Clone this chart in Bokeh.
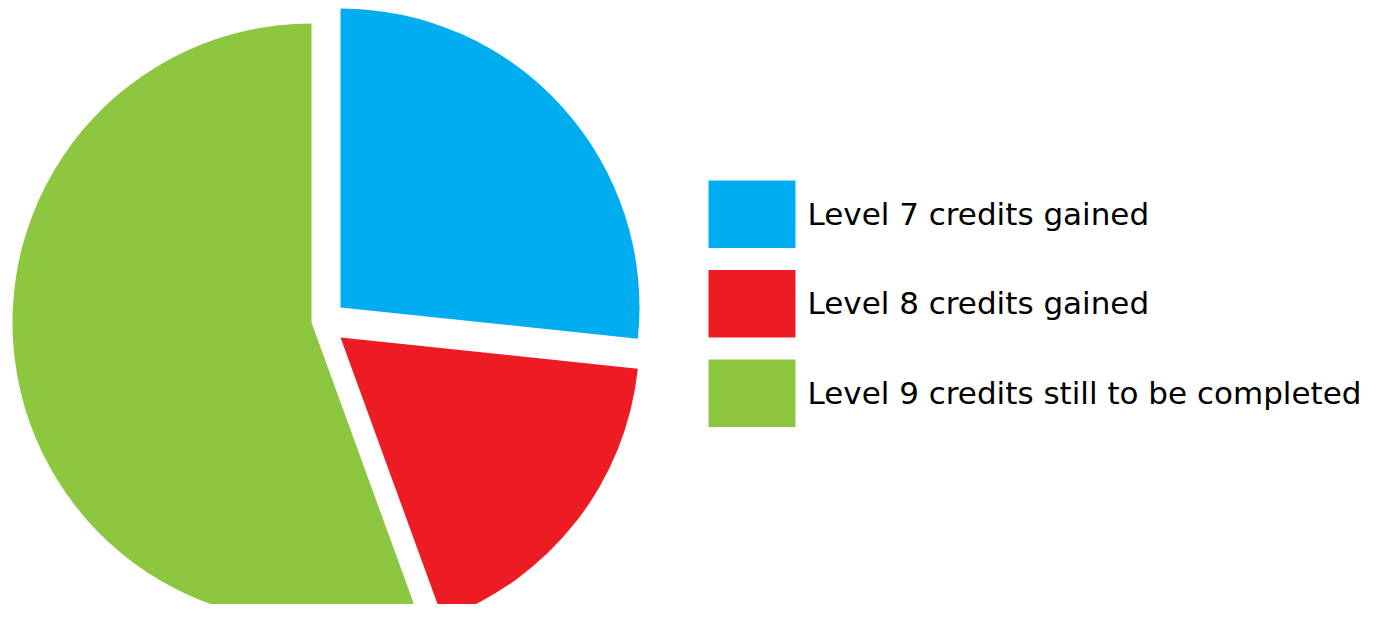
import math
from bokeh.plotting import figure
from bokeh.models import Range1d, ColumnDataSource
from bokeh.core.properties import value
from bokeh.embed import file_html
from bokeh.resources import INLINE

# ---- data ----
categories = [
    "Level 7 credits gained",
    "Level 8 credits gained",
    "Level 9 credits still to be completed",
]
credits = [120, 80, 250]
colors = ["#00AEEF", "#ED1C24", "#8DC63F"]

# ---- style / layout ----
W, H = 1365, 604
PIE_CX, PIE_CY = 325, 298          # data coords (y up, y = 620 - screen y)
RADIUS = 299
EXPLODE = [(15, 15), (15, -15), (-14, 0)]   # per-slice offset (dx, dy)
LEG_X0, LEG_X1 = 708, 795
LEG_TOP, LEG_H, LEG_STEP = 440, 67.5, 89.5
TEXT_X, TEXT_BASE = 807, 407

p = figure(width=W, height=H, x_range=Range1d(0, W), y_range=Range1d(620 - H, 620),
           output_backend="svg", toolbar_location=None, min_border=0)
p.axis.visible = False
p.grid.visible = False
p.outline_line_color = None
p.background_fill_color = "white"
p.border_fill_color = "white"

total = float(sum(credits))
starts, ends, xs, ys = [], [], [], []
cum = 0.0
for v, (dx, dy) in zip(credits, EXPLODE):
    a0 = math.radians(90 - cum / total * 360)
    a1 = math.radians(90 - (cum + v) / total * 360)
    starts.append(a1)
    ends.append(a0)
    xs.append(PIE_CX + dx)
    ys.append(PIE_CY + dy)
    cum += v

src = ColumnDataSource(dict(x=xs, y=ys, start=starts, end=ends, color=colors))
p.wedge(x="x", y="y", radius=RADIUS, start_angle="start", end_angle="end",
        fill_color="color", line_color=None, source=src)

idx = list(range(len(categories)))
leg = ColumnDataSource(dict(
    left=[LEG_X0] * len(idx), right=[LEG_X1] * len(idx),
    top=[LEG_TOP - i * LEG_STEP for i in idx],
    bottom=[LEG_TOP - LEG_H - i * LEG_STEP for i in idx],
    color=colors,
    tx=[TEXT_X] * len(idx),
    ty=[TEXT_BASE - i * LEG_STEP for i in idx],
    label=categories,
))
p.quad(left="left", right="right", top="top", bottom="bottom",
       fill_color="color", line_color=None, source=leg)
p.text(x="tx", y="ty", text="label", source=leg, text_font=value("DejaVu Sans"),
       text_font_size="31px", text_baseline="alphabetic", text_align="left",
       text_color="black")

open("out.html", "w").write(file_html(p, INLINE))
